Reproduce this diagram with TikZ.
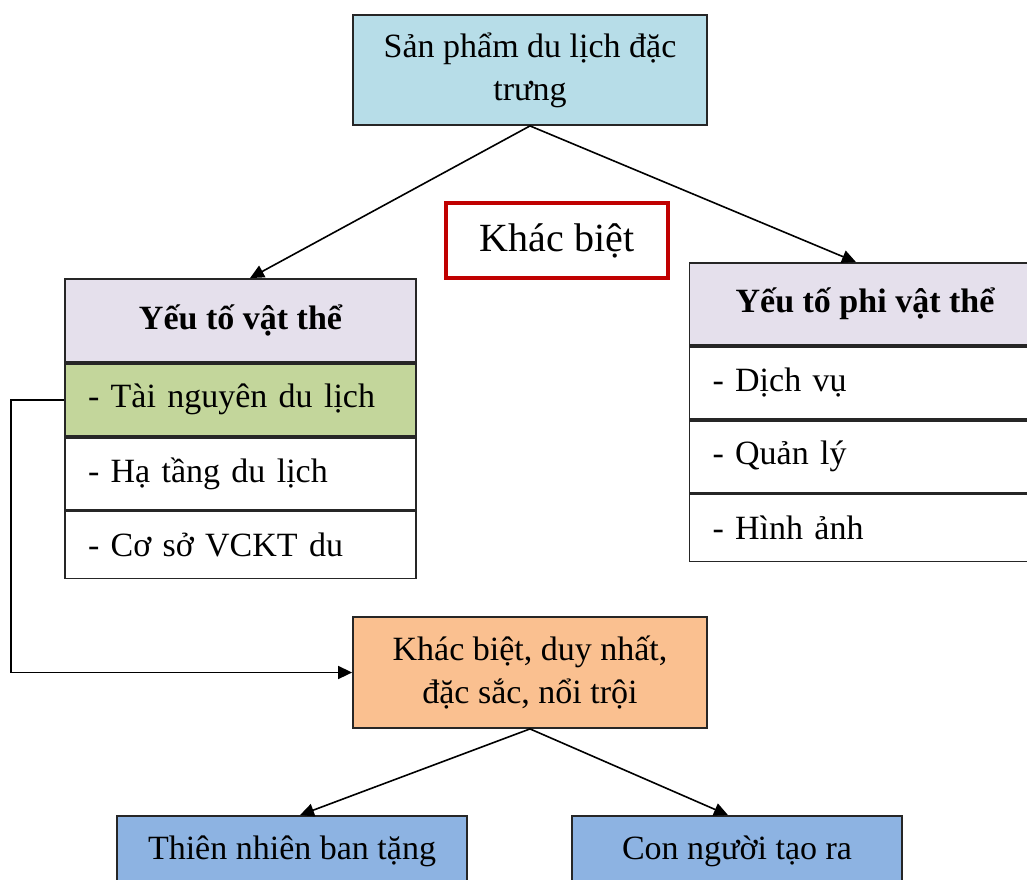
\documentclass[tikz,border=0pt]{standalone}
\usepackage{fontspec}
\setmainfont{Liberation Serif}
\usepackage{tikz}
\usetikzlibrary{calc,positioning,arrows.meta}

\definecolor{topblue}{HTML}{B7DDE8}
\definecolor{headpurple}{HTML}{E5E0EC}
\definecolor{rowgreen}{HTML}{C3D69B}
\definecolor{midorange}{HTML}{FAC090}
\definecolor{lowblue}{HTML}{8DB3E2}
\definecolor{borderred}{HTML}{C00000}

\begin{document}
\begin{tikzpicture}[
                x=1pt,y=-1pt,
                every node/.style={black,font=\fontsize{34}{43}\selectfont},
                box/.style={draw=black!85,line width=1.8pt,fill=#1,rectangle,inner sep=0pt,align=center},
                box/.default=white,
                head/.style={box=headpurple,minimum width=351pt,minimum height=83pt,font=\fontsize{34}{43}\selectfont\bfseries},
                row/.style={box=#1,minimum width=351pt,minimum height=72pt,text width=305pt,inner xsep=23pt,align=left},
                row/.default=white,
                link/.style={line width=1.6pt,-{Triangle[length=14pt,width=13pt]}}
            ]
                \useasboundingbox (0,0) rectangle (1027,879);
                \clip (0,0) rectangle (1027,879);

                \node[box=topblue,minimum width=354pt,minimum height=110pt] (product) at (530,70) {Sản phẩm du lịch đặc\\trưng};
                \node[draw=borderred,line width=3.5pt,minimum width=222pt,minimum height=75pt,font=\fontsize{40}{48}\selectfont] (khacBiet) at (557,240.5) {Khác biệt};

                \node[head] (vtHead) at (240.5,320.5) {Yếu tố vật thể};
                \node[row=rowgreen,below=0pt of vtHead] (vtRowA) {- Tài nguyên du lịch};
                \node[row,below=0pt of vtRowA] (vtRowB) {- Hạ tầng du lịch};
                \node[row,below=0pt of vtRowB,minimum height=67pt] (vtRowC) {- Cơ sở VCKT du};

                \node[head,minimum height=82pt] (pvtHead) at (865,304) {Yếu tố phi vật thể};
                \node[row,below=0pt of pvtHead] (pvtRowA) {- Dịch vụ};
                \node[row,below=0pt of pvtRowA] (pvtRowB) {- Quản lý};
                \node[row,below=0pt of pvtRowB,minimum height=67pt] (pvtRowC) {- Hình ảnh};

                \node[box=midorange,minimum width=354pt,minimum height=111pt] (dacSac) at (530,672.5) {Khác biệt, duy nhất,\\đặc sắc, nổi trội};

                \node[box=lowblue,minimum width=350pt,minimum height=70pt] (thienNhien) at (292,851) {Thiên nhiên ban tặng};
                \node[box=lowblue,minimum width=330pt,minimum height=70pt] (conNguoi) at (737,851) {Con người tạo ra};

                \draw[link] (product.south) -- ($(vtHead.north)+(9.5,0)$);
                \draw[link] (product.south) -- ($(pvtHead.north)+(-9,0)$);
                \draw[link] (vtRowA.west) -- ++(-53,0) |- (dacSac.west);
                \draw[link] (dacSac.south) -- ($(thienNhien.north)+(8,0)$);
                \draw[link] (dacSac.south) -- ($(conNguoi.north)+(-9,0)$);
            \end{tikzpicture}
\end{document}
